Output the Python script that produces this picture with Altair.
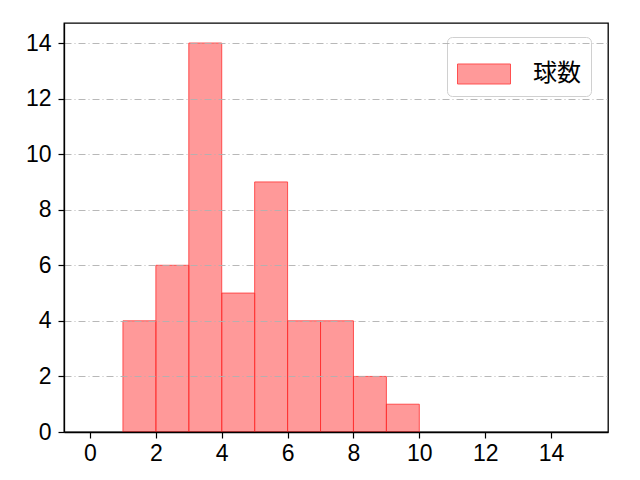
import altair as alt
import pandas as pd

bin_start = [1, 2, 3, 4, 5, 6, 7, 8, 9]
bin_end = [2, 3, 4, 5, 6, 7, 8, 9, 10]
counts = [4, 6, 14, 5, 9, 4, 4, 2, 1]
series = ["球数"] * len(counts)
x_ticks = [0, 2, 4, 6, 8, 10, 12, 14]
y_ticks = [0, 2, 4, 6, 8, 10, 12, 14]

df = pd.DataFrame({"start": bin_start, "end": bin_end, "count": counts, "series": series})

FONT = "Noto Sans CJK JP"
TICK_FONT = "Liberation Sans"

chart = alt.Chart(df).mark_bar(
    fill="red", fillOpacity=0.4, stroke="#ff3030", strokeWidth=1, strokeOpacity=0.8,
    orient="vertical"
).encode(
    x=alt.X("start:Q", title=None,
            scale=alt.Scale(domain=[-0.79, 15.73], nice=False, zero=False, padding=0),
            axis=alt.Axis(values=x_ticks, grid=False, format="d", labelPadding=4, zindex=2)),
    x2="end:Q",
    y=alt.Y("count:Q", title=None,
            scale=alt.Scale(domain=[0, 14.72], nice=False, padding=0),
            axis=alt.Axis(values=y_ticks, grid=True, gridColor="#b0b0b0",
                          gridDash=[7, 3, 1, 3], gridWidth=0.9, format="d", zindex=1,
                          labelPadding=7)),
    y2=alt.datum(0),
    color=alt.Color("series:N", title=None,
                    scale=alt.Scale(range=["#ff9999"]),
                    legend=alt.Legend(orient="none", legendX=383, legendY=14,
                                      symbolType="M-1,-0.377L1,-0.377L1,0.377L-1,0.377Z",
                                      symbolSize=2809, symbolStrokeColor="#ff5050",
                                      symbolStrokeWidth=1, symbolFillColor="#ff9999",
                                      symbolOpacity=1,
                                      labelFontSize=24, labelFont=FONT, labelColor="black",
                                      labelOffset=22, padding=10,
                                      strokeColor="#d0d0d0", cornerRadius=5,
                                      fillColor="rgba(255,255,255,0.85)")),
).properties(
    width=544, height=409,
    padding={"left": 56, "top": 15, "right": 24, "bottom": 40},
    autosize=alt.AutoSizeParams(type="none"),
).configure_view(
    stroke="black", strokeWidth=1.3
).configure_axis(
    domainColor="black", domainWidth=1.3, tickColor="black", tickWidth=1.2,
    tickSize=6, labelFont=TICK_FONT, labelFontSize=23, labelColor="black"
)

chart.save("out.html", embed_options={"renderer": "svg", "actions": False})
